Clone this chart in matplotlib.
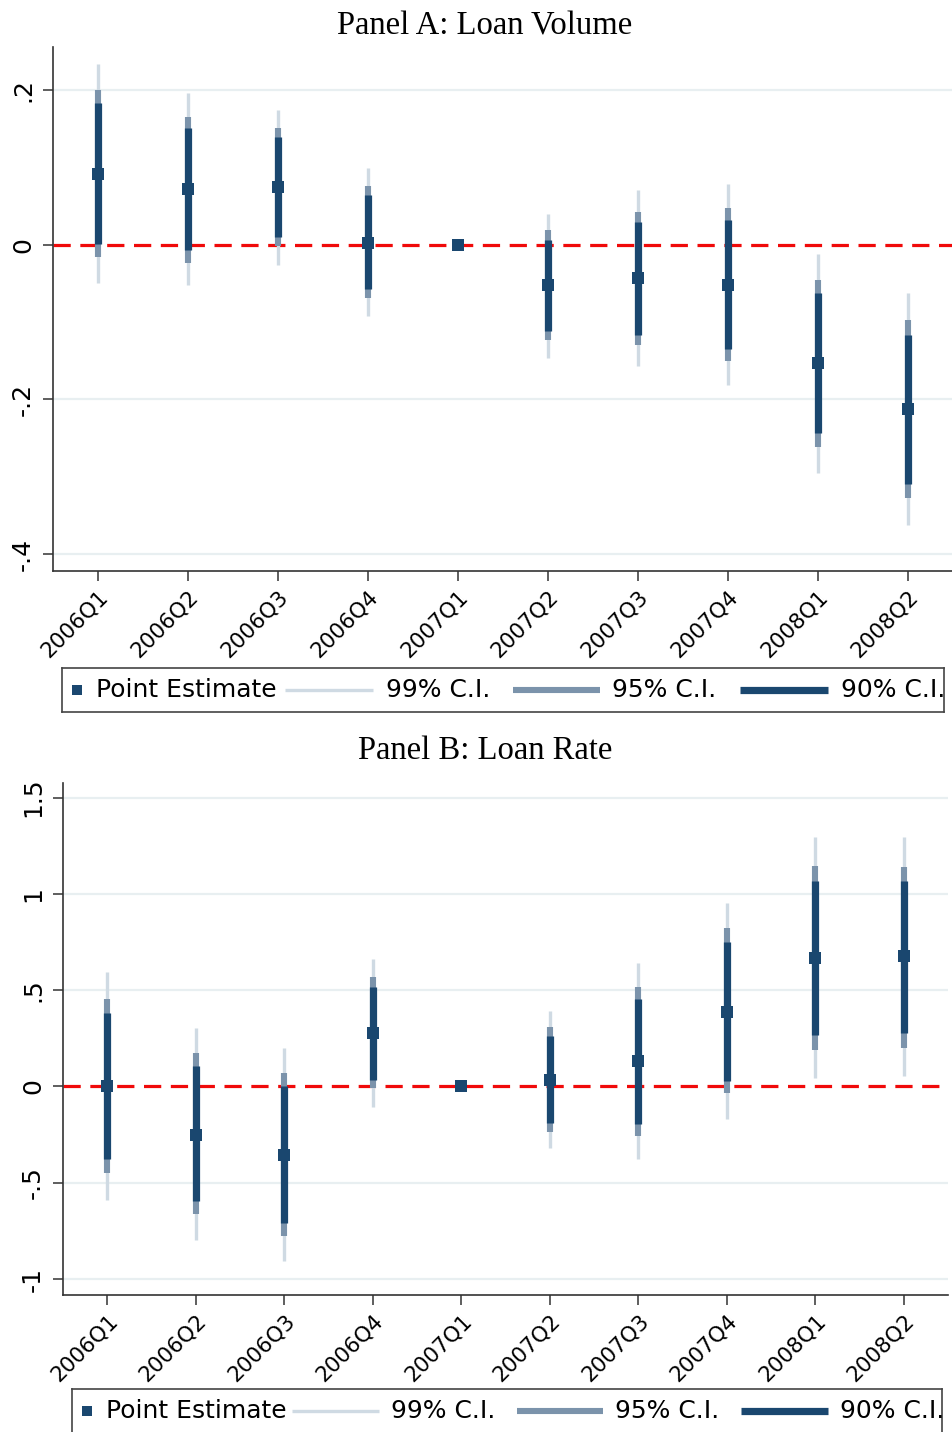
import numpy as np
import matplotlib
matplotlib.use("Agg")
import matplotlib.pyplot as plt
from matplotlib.lines import Line2D

# ── Data: event-study coefficients by quarter (2007Q1 = base period) ─────────
quarters = ['2006Q1', '2006Q2', '2006Q3', '2006Q4', '2007Q1',
            '2007Q2', '2007Q3', '2007Q4', '2008Q1', '2008Q2']
nan = np.nan

# Panel A: loan volume
vol_est  = [0.092, 0.072, 0.075, 0.003, 0.0, -0.052, -0.043, -0.052, -0.153, -0.213]
vol_lo90 = [0.001, -0.007, 0.010, -0.057, nan, -0.112, -0.117, -0.135, -0.243, -0.310]
vol_hi90 = [0.183, 0.151, 0.139, 0.064, nan, 0.006, 0.029, 0.032, -0.062, -0.116]
vol_lo95 = [-0.016, -0.023, -0.001, -0.069, nan, -0.123, -0.129, -0.150, -0.262, -0.328]
vol_hi95 = [0.200, 0.166, 0.151, 0.076, nan, 0.019, 0.042, 0.048, -0.045, -0.097]
vol_lo99 = [-0.050, -0.052, -0.026, -0.092, nan, -0.146, -0.157, -0.181, -0.295, -0.362]
vol_hi99 = [0.234, 0.196, 0.174, 0.099, nan, 0.040, 0.071, 0.079, -0.012, -0.062]

# Panel B: loan rate
rate_est  = [0.0, -0.251, -0.354, 0.277, 0.0, 0.035, 0.130, 0.389, 0.669, 0.675]
rate_lo90 = [-0.377, -0.593, -0.709, 0.035, nan, -0.190, -0.195, 0.030, 0.268, 0.277]
rate_hi90 = [0.381, 0.104, 0.002, 0.519, nan, 0.263, 0.455, 0.749, 1.069, 1.069]
rate_lo95 = [-0.450, -0.662, -0.775, -0.008, nan, -0.237, -0.259, -0.034, 0.190, 0.199]
rate_hi95 = [0.455, 0.173, 0.069, 0.571, nan, 0.311, 0.519, 0.822, 1.147, 1.142]
rate_lo99 = [-0.588, -0.796, -0.908, -0.107, nan, -0.320, -0.375, -0.169, 0.043, 0.052]
rate_hi99 = [0.594, 0.303, 0.199, 0.663, nan, 0.394, 0.640, 0.952, 1.294, 1.294]

vol_ticks = [0.2, 0, -0.2, -0.4]
vol_ticklabels = ['.2', '0', '-.2', '-.4']
rate_ticks = [1.5, 1, 0.5, 0, -0.5, -1]
rate_ticklabels = ['1.5', '1', '.5', '0', '-.5', '-1']

# ── Style ─────────────────────────────────────────────────────────────────────
NAVY  = '#1a476f'
MID   = '#7b93ab'
LIGHT = '#cfdae3'
RED   = '#f00a0a'
GRID  = '#e8eff1'
SPINE = '#333333'

LW99, LW95, LW90 = 2.4, 4.4, 5.2
MS = 8.2

plt.rcParams['font.family'] = ['DejaVu Sans']

W, H = 953, 1432
fig = plt.figure(figsize=(W / 100, H / 100), dpi=100, facecolor='white')


def px_rect(x0, y0, x1, y1):
    """Figure rectangle from pixel corners (top-left origin)."""
    return [x0 / W, 1 - y1 / H, (x1 - x0) / W, (y1 - y0) / H]


def draw_panel(ax, est, lo90, hi90, lo95, hi95, lo99, hi99,
               ticks, ticklabels, ylim):
    x = np.arange(len(quarters))
    for t in ticks:
        if t != 0:
            ax.axhline(t, color=GRID, lw=1.6, zorder=0)
    ax.axhline(0, color=RED, lw=2.3, dashes=(5.4, 3.0), zorder=1)
    ax.vlines(x, lo99, hi99, color=LIGHT, lw=LW99, capstyle='butt', zorder=2)
    ax.vlines(x, lo95, hi95, color=MID, lw=LW95, capstyle='butt', zorder=3)
    ax.vlines(x, lo90, hi90, color=NAVY, lw=LW90, capstyle='butt', zorder=4)
    ax.plot(x, est, 's', color=NAVY, ms=MS, mew=0, zorder=5)

    ax.set_xlim(-0.5, len(quarters) - 0.5)
    ax.set_ylim(*ylim)
    ax.set_xticks(x)
    ax.set_xticklabels(quarters, rotation=45, ha='right', va='top',
                       rotation_mode='anchor', fontsize=15.5)
    ax.set_yticks(ticks)
    ax.set_yticklabels(ticklabels, rotation=90, va='center', fontsize=18)
    ax.tick_params(axis='both', length=7, width=1.1, color=SPINE, pad=6)
    ax.tick_params(axis='x', pad=4)
    for side in ('top', 'right'):
        ax.spines[side].set_visible(False)
    for side in ('left', 'bottom'):
        ax.spines[side].set_color(SPINE)
        ax.spines[side].set_linewidth(1.2)


def draw_key(rect):
    """Boxed key row: point marker, then the three interval widths."""
    kx = fig.add_axes(rect)
    kx.set_xlim(0, 1)
    kx.set_ylim(0, 1)
    kx.set_xticks([])
    kx.set_yticks([])
    for s in kx.spines.values():
        s.set_color('#444444')
        s.set_linewidth(1.2)
    kx.plot([0.017], [0.5], 's', color=NAVY, ms=6.5, mew=0)
    kx.text(0.039, 0.5, 'Point Estimate', va='center', ha='left', fontsize=18)
    items = [(0.253, 0.353, LIGHT, LW99, '99% C.I.'),
             (0.511, 0.610, MID, LW95, '95% C.I.'),
             (0.769, 0.869, NAVY, LW90, '90% C.I.')]
    for x0, x1, col, lw, lbl in items:
        kx.add_line(Line2D([x0, x1], [0.5, 0.5], color=col, lw=lw,
                           solid_capstyle='butt'))
        kx.text(x1 + 0.014, 0.5, lbl, va='center', ha='left', fontsize=18)


# ── Panel A ───────────────────────────────────────────────────────────────────
axA = fig.add_axes(px_rect(53, 47, 953, 571))
draw_panel(axA, vol_est, vol_lo90, vol_hi90, vol_lo95, vol_hi95,
           vol_lo99, vol_hi99, vol_ticks, vol_ticklabels, (-0.422, 0.256))
fig.text(485 / W, 1 - 26 / H, 'Panel A: Loan Volume', ha='center', va='center',
         fontsize=23.5, family='Liberation Serif')
draw_key(px_rect(62, 668, 944, 712))

# ── Panel B ───────────────────────────────────────────────────────────────────
axB = fig.add_axes(px_rect(63, 783, 948, 1295))
draw_panel(axB, rate_est, rate_lo90, rate_hi90, rate_lo95, rate_hi95,
           rate_lo99, rate_hi99, rate_ticks, rate_ticklabels, (-1.083, 1.576))
fig.text(485 / W, 1 - 751 / H, 'Panel B: Loan Rate', ha='center', va='center',
         fontsize=23.5, family='Liberation Serif')
draw_key(px_rect(72, 1389, 942, 1433))

fig.savefig('out.png', dpi=100, facecolor='white')
plt.close(fig)
